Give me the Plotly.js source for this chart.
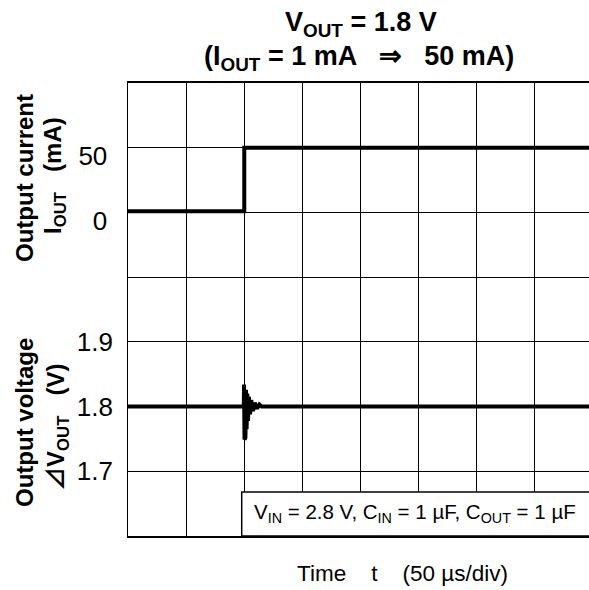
<!DOCTYPE html>
<html>
<head>
<meta charset="utf-8">
<script src="https://cdn.plot.ly/plotly-3.0.1.min.js"></script>
<style>html,body{margin:0;padding:0;background:#fff;}#chart{width:589px;height:590px;}</style>
</head>
<body>
<div id="chart"></div>
<script>
// ---- data ----
const currentTime = [0, 100, 100, 396.5];          // µs
const currentValue = [1, 1, 50, 50];                // mA
const voltageTime = [0, 99.6, 99.8, 100.2, 100.6, 101.0, 101.5, 102.0, 102.6, 103.2, 104, 105, 106, 107.5, 109, 111, 113, 115, 396.5];
const voltageValue = [1.800, 1.800, 1.834, 1.749, 1.832, 1.752, 1.826, 1.765, 1.820, 1.778, 1.815, 1.788, 1.810, 1.793, 1.806, 1.797, 1.803, 1.800, 1.800];
const currentTicks = [0, 50];
const currentTickLabels = ['0', '50'];
const voltageTicks = [1.7, 1.8, 1.9];
const voltageTickLabels = ['1.7', '1.8', '1.9'];

const FONT = '"Liberation Sans", Arial, Helvetica, sans-serif';

const traces = [
  {x: currentTime, y: currentValue, type: 'scatter', mode: 'lines', yaxis: 'y',
   line: {color: '#000', width: 4, shape: 'linear'}, hoverinfo: 'skip'},
  {x: voltageTime, y: voltageValue, type: 'scatter', mode: 'lines', yaxis: 'y2',
   line: {color: '#000', width: 4}, hoverinfo: 'skip'}
];

const layout = {
  width: 589, height: 590,
  margin: {l: 128, r: 0, t: 83, b: 54, pad: 0},
  paper_bgcolor: '#fff', plot_bgcolor: '#fff',
  showlegend: false,
  font: {family: FONT, color: '#000'},
  xaxis: {
    range: [0, 396.5], dtick: 50, tick0: 0, showgrid: true, gridcolor: '#000', gridwidth: 1,
    showticklabels: false, ticks: '', zeroline: false,
    showline: true, linecolor: '#000', linewidth: 2, mirror: true
  },
  yaxis: {
    range: [-250, 100], tickmode: 'array', tickvals: currentTicks, ticktext: currentTickLabels,
    showgrid: true, gridcolor: '#000', gridwidth: 1,
    minor: {dtick: 50, tick0: 0, showgrid: true, gridcolor: '#000', gridwidth: 1, ticks: ''},
    zeroline: false, ticks: '', ticklabelstandoff: 14, ticklabelshift: 8,
    tickfont: {family: FONT, size: 26, color: '#000'},
    showline: true, linecolor: '#000', linewidth: 1.5
  },
  yaxis2: {
    range: [1.6, 2.3], overlaying: 'y', anchor: 'x', side: 'left',
    tickmode: 'array', tickvals: voltageTicks, ticktext: voltageTickLabels,
    showgrid: false, zeroline: false, ticks: '', ticklabelstandoff: 14,
    tickfont: {family: FONT, size: 26, color: '#000'}
  },
  shapes: [
    {type: 'rect', xref: 'x', yref: 'y2', x0: 97.8, x1: 420, y0: 1.6, y1: 1.668,
     fillcolor: '#fff', line: {color: '#000', width: 1.5}, layer: 'above'}
  ],
  annotations: [
    {text: '<b>V<sub>OUT</sub> = 1.8 V</b>', xref: 'paper', yref: 'paper', x: 0.505, y: (536 - 24) / 453,
     xanchor: 'center', yanchor: 'middle', showarrow: false, font: {family: FONT, size: 27, color: '#000'}},
    {text: '<b>(I<sub>OUT</sub> = 1 mA   ⇒   50 mA)</b>', xref: 'paper', yref: 'paper', x: 0.5, y: (536 - 58) / 453,
     xanchor: 'center', yanchor: 'middle', showarrow: false, font: {family: FONT, size: 27, color: '#000'}},
    {text: '<b>Output current</b>', xref: 'paper', yref: 'paper', x: (24 - 128) / 461, y: (536 - 178) / 453,
     xanchor: 'center', yanchor: 'middle', textangle: -90, showarrow: false, font: {family: FONT, size: 24, color: '#000'}},
    {text: '<b>I<sub>OUT</sub>   (mA)</b>', xref: 'paper', yref: 'paper', x: (54 - 128) / 461, y: (536 - 176) / 453,
     xanchor: 'center', yanchor: 'middle', textangle: -90, showarrow: false, font: {family: FONT, size: 24, color: '#000'}},
    {text: '<b>Output voltage</b>', xref: 'paper', yref: 'paper', x: (24 - 128) / 461, y: (536 - 423) / 453,
     xanchor: 'center', yanchor: 'middle', textangle: -90, showarrow: false, font: {family: FONT, size: 24, color: '#000'}},
    {text: '<b><span style="font-family:\'Noto Sans CJK JP\'">⊿</span>V<sub>OUT</sub>   (V)</b>', xref: 'paper', yref: 'paper', x: (54 - 128) / 461, y: (536 - 428) / 453,
     xanchor: 'center', yanchor: 'middle', textangle: -90, showarrow: false, font: {family: FONT, size: 24, color: '#000'}},
    {text: 'Time    t    (50 µs/div)', xref: 'paper', yref: 'paper', x: (402 - 128) / 461, y: (536 - 573) / 453,
     xanchor: 'center', yanchor: 'middle', showarrow: false, font: {family: FONT, size: 22.5, color: '#000'}},
    {text: 'V<sub>IN</sub> = 2.8 V, C<sub>IN</sub> = 1 µF, C<sub>OUT</sub> = 1 µF', xref: 'x', yref: 'y2', x: 247, y: 1.635,
     xanchor: 'center', yanchor: 'middle', showarrow: false, font: {family: FONT, size: 20.5, color: '#000'}}
  ]
};

Plotly.newPlot('chart', traces, layout, {displayModeBar: false, staticPlot: true});
</script>
</body>
</html>
